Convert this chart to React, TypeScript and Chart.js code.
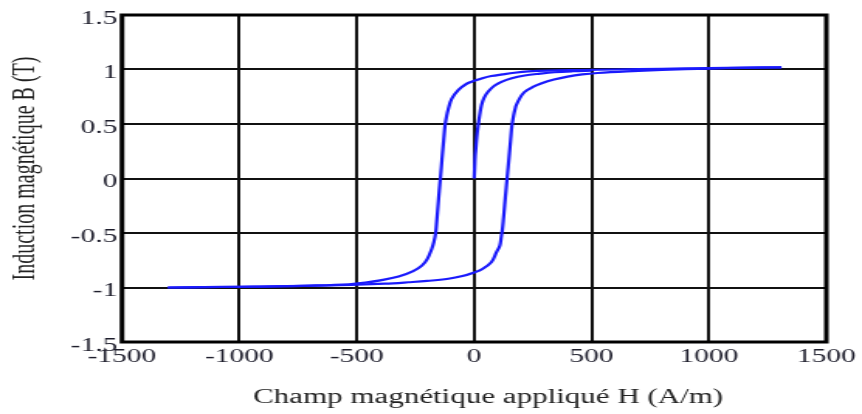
import React, { useEffect, useRef } from 'react';
import { Chart, registerables } from 'chart.js';

Chart.register(...registerables);

// ---- tick values and labels ----
const xTickValues = [-1500, -1000, -500, 0, 500, 1000, 1500];
const xTickLabels = ['-1500', '-1000', '-500', '0', '500', '1000', '1500'];
const yTickValues = [-1.5, -1, -0.5, 0, 0.5, 1, 1.5];
const yTickLabels = ['-1.5', '-1', '-0.5', '0', '0.5', '1', '1.5'];

const xTitle = 'Champ magnétique appliqué H (A/m)';
const yTitle = 'Induction magnétique B (T)';

// ---- descending branch (H from +sat to -sat) ----
const descH = [1309, 1150, 1000, 800, 600, 450, 314, 230, 172, 120, 73, 35, 0, -33, -68, -96, -110, -117, -124, -130, -135, -140, -144, -149, -154, -159, -164, -172, -181, -200, -223, -260, -322, -400, -463, -534, -700, -850, -1000, -1150, -1305];
const descB = [1.02, 1.017, 1.013, 1.007, 1.0, 0.995, 0.99, 0.982, 0.97, 0.955, 0.94, 0.92, 0.896, 0.868, 0.81, 0.73, 0.64, 0.576, 0.49, 0.35, 0.23, 0.1, 0.0, -0.12, -0.25, -0.38, -0.5, -0.585, -0.647, -0.74, -0.8, -0.85, -0.9, -0.935, -0.955, -0.97, -0.983, -0.99, -0.993, -0.997, -1.0];

// ---- ascending branch (H from -sat to +sat) ----
const ascH = [-1305, -1150, -1000, -800, -650, -500, -380, -280, -200, -110, -50, 0, 35, 73, 95, 109, 115, 120, 125, 130, 135, 140, 145, 150, 155, 161, 168, 174, 179, 195, 215, 250, 285, 340, 398, 460, 525, 650, 800, 1000, 1150, 1309];
const ascB = [-1.0, -0.997, -0.994, -0.988, -0.982, -0.975, -0.965, -0.952, -0.94, -0.92, -0.895, -0.862, -0.83, -0.769, -0.676, -0.617, -0.54, -0.47, -0.36, -0.24, -0.12, 0.0, 0.11, 0.23, 0.35, 0.49, 0.58, 0.635, 0.672, 0.74, 0.795, 0.84, 0.872, 0.908, 0.935, 0.955, 0.968, 0.983, 0.996, 1.008, 1.015, 1.02];

// ---- initial magnetisation curve ----
const initH = [0, 2, 4, 7, 11, 17, 24, 31, 42, 59, 85, 116, 160, 215, 280, 342, 420, 500];
const initB = [0, 0.1, 0.2, 0.275, 0.38, 0.489, 0.59, 0.672, 0.74, 0.795, 0.85, 0.887, 0.92, 0.945, 0.962, 0.975, 0.984, 0.99];

// The reference image is horizontally stretched; render narrow, display wide.
const STRETCH = 1.5504;
const DISPLAY_W = 862;
const DISPLAY_H = 414;
const CANVAS_W = Math.round(DISPLAY_W / STRETCH);

const toPoints = (hs: number[], bs: number[]) => hs.map((h, i) => ({ x: h, y: bs[i] }));

const framePlugin = {
  id: 'frameAndTitles',
  afterDraw(chart: any) {
    const { ctx, chartArea: a } = chart;
    ctx.save();
    ctx.strokeStyle = '#000';
    ctx.lineWidth = 3;
    ctx.strokeRect(a.left, a.top, a.right - a.left, a.bottom - a.top);
    ctx.fillStyle = '#222';
    ctx.font = '20px "Liberation Serif", "Times New Roman", serif';
    ctx.textAlign = 'center';
    ctx.textBaseline = 'middle';
    ctx.fillText(xTitle, (a.left + a.right) / 2 + 9, a.bottom + 56);
    ctx.translate(16.7, (a.top + a.bottom) / 2 - 10);
    ctx.rotate(-Math.PI / 2);
    ctx.fillText(yTitle, 0, 0);
    ctx.restore();
  },
};

export default function App() {
  const ref = useRef<HTMLCanvasElement>(null);
  useEffect(() => {
    document.body.style.margin = '0';
    const blue = 'rgb(26,26,252)';
    const lineCommon = {
      showLine: true,
      borderColor: blue,
      backgroundColor: blue,
      borderWidth: 2.2,
      pointRadius: 0,
      tension: 0.35,
      fill: false,
    };
    const tickFont = { family: '"Liberation Serif", "Times New Roman", serif', size: 19 };
    const chart = new Chart(ref.current!, {
      type: 'scatter',
      data: {
        datasets: [
          { ...lineCommon, label: 'desc', data: toPoints(descH, descB) },
          { ...lineCommon, label: 'asc', data: toPoints(ascH, ascB) },
          { ...lineCommon, label: 'init', data: toPoints(initH, initB) },
        ],
      },
      options: {
        responsive: false,
        animation: false,
        devicePixelRatio: 1,
        layout: { padding: { left: 0, top: 15, right: CANVAS_W - 830 / STRETCH, bottom: 0 } },
        plugins: { legend: { display: false }, tooltip: { enabled: false } },
        scales: {
          x: {
            type: 'linear',
            min: -1500,
            max: 1500,
            afterBuildTicks: (s: any) => { s.ticks = xTickValues.map((v) => ({ value: v })); },
            afterFit: (s: any) => { s.height = DISPLAY_H - 342; },
            ticks: {
              padding: 4,
              maxRotation: 0,
              autoSkip: false,
              color: '#1e1e2c',
              font: tickFont,
              callback: (v: any) => xTickLabels[xTickValues.indexOf(Number(v))] ?? '',
            },
            grid: { color: '#111', lineWidth: 2, drawTicks: false },
            border: { display: false },
          },
          y: {
            type: 'linear',
            min: -1.5,
            max: 1.5,
            afterBuildTicks: (s: any) => { s.ticks = yTickValues.map((v) => ({ value: v })); },
            afterFit: (s: any) => { s.width = 122 / STRETCH; },
            ticks: {
              padding: 3,
              labelOffset: 4,
              autoSkip: false,
              color: '#1e1e2c',
              font: tickFont,
              callback: (v: any) => yTickLabels[yTickValues.indexOf(Number(v))] ?? '',
            },
            grid: { color: '#111', lineWidth: 2, drawTicks: false },
            border: { display: false },
          },
        },
      },
      plugins: [framePlugin],
    } as any);
    return () => chart.destroy();
  }, []);
  return (
    <div style={{ position: 'absolute', left: 0, top: 0 }}>
      <canvas
        ref={ref}
        width={CANVAS_W}
        height={DISPLAY_H}
        style={{ width: DISPLAY_W + 'px', height: DISPLAY_H + 'px', display: 'block' }}
      />
    </div>
  );
}
